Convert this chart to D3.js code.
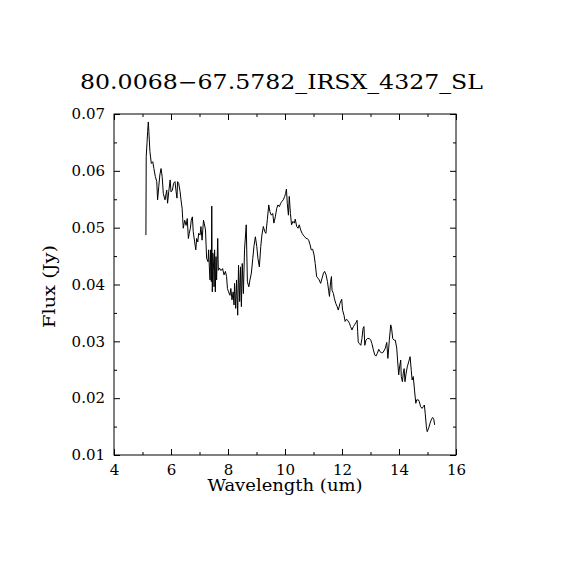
<!DOCTYPE html>
<html>
<head>
<meta charset="utf-8">
<script src="https://cdn.jsdelivr.net/npm/d3@7"></script>
<style>
  body { margin: 0; background: #fff; }
  text { font-family: "DejaVu Serif", serif; fill: #000; }
</style>
</head>
<body>
<div id="spectrum"></div>
<script>
// spectrum: [wavelength (um), flux (Jy)]
var spectrum = [
  [5.12,0.0487],[5.13,0.0625],[5.16,0.0650],[5.18,0.0669],[5.205,0.0686],[5.23,0.0663],[5.26,0.0634],
  [5.31,0.0613],[5.36,0.0616],[5.40,0.0604],[5.45,0.0590],[5.50,0.0581],[5.53,0.0549],[5.57,0.0572],
  [5.61,0.0593],[5.65,0.0604],[5.69,0.0590],[5.73,0.0560],[5.79,0.0549],[5.85,0.0566],[5.88,0.0543],
  [5.92,0.0563],[5.97,0.0584],[6.00,0.0563],[6.05,0.0566],[6.09,0.0578],[6.14,0.0581],[6.18,0.0563],
  [6.21,0.0552],[6.23,0.0581],[6.27,0.0578],[6.32,0.0563],[6.35,0.0549],[6.39,0.0534],[6.41,0.0516],
  [6.43,0.0499],[6.48,0.0513],[6.53,0.0504],[6.57,0.0516],[6.61,0.0481],[6.64,0.0490],[6.68,0.0499],
  [6.71,0.0513],[6.75,0.0519],[6.78,0.0493],[6.83,0.0475],[6.87,0.0461],[6.90,0.0481],[6.94,0.0475],
  [6.97,0.0490],[7.02,0.0487],[7.05,0.0502],[7.09,0.0478],[7.14,0.0513],[7.17,0.0507],[7.21,0.0496],
  [7.25,0.0446],[7.30,0.0440],[7.32,0.0461],[7.345,0.0431],[7.37,0.0408],[7.39,0.0461],[7.415,0.0405],
  [7.43,0.0538],[7.45,0.0387],[7.47,0.0455],[7.50,0.0425],[7.51,0.0396],[7.53,0.0461],[7.555,0.0387],
  [7.58,0.0449],[7.60,0.0408],[7.64,0.0481],[7.66,0.0425],[7.70,0.0429],[7.74,0.0425],[7.79,0.0426],
  [7.81,0.0428],[7.86,0.0417],[7.91,0.0423],[7.95,0.0414],[7.98,0.0393],[8.02,0.0387],[8.07,0.0381],
  [8.10,0.0393],[8.14,0.0373],[8.18,0.0387],[8.21,0.0364],[8.23,0.0402],[8.27,0.0358],[8.30,0.0408],
  [8.34,0.0346],[8.37,0.0434],[8.41,0.0370],[8.44,0.0431],[8.47,0.0361],[8.50,0.0437],[8.54,0.0384],
  [8.58,0.0461],[8.64,0.0505],[8.68,0.0405],[8.73,0.0396],[8.77,0.0408],[8.82,0.0420],[8.87,0.0446],
  [8.91,0.0467],[8.96,0.0484],[9.01,0.0467],[9.05,0.0446],[9.10,0.0431],[9.15,0.0467],[9.19,0.0487],
  [9.24,0.0502],[9.29,0.0493],[9.33,0.0490],[9.38,0.0514],[9.43,0.0540],[9.47,0.0528],[9.52,0.0522],
  [9.57,0.0525],[9.61,0.0508],[9.66,0.0519],[9.71,0.0534],[9.75,0.0540],[9.80,0.0537],[9.85,0.0543],
  [9.89,0.0546],[9.94,0.0549],[9.99,0.0555],[10.02,0.0560],[10.05,0.0568],[10.08,0.0543],[10.12,0.0522],
  [10.15,0.0555],[10.19,0.0525],[10.23,0.0505],[10.28,0.0511],[10.33,0.0508],[10.36,0.0515],[10.41,0.0502],
  [10.46,0.0499],[10.50,0.0505],[10.55,0.0496],[10.60,0.0490],[10.64,0.0487],[10.69,0.0484],[10.74,0.0481],
  [10.78,0.0481],[10.83,0.0478],[10.88,0.0470],[10.92,0.0461],[10.97,0.0462],[11.02,0.0452],[11.06,0.0437],
  [11.11,0.0414],[11.16,0.0411],[11.20,0.0408],[11.25,0.0402],[11.30,0.0411],[11.35,0.0420],[11.39,0.0423],
  [11.44,0.0417],[11.49,0.0405],[11.53,0.0390],[11.56,0.0379],[11.60,0.0405],[11.63,0.0414],
  [11.65,0.0390],[11.70,0.0384],[11.73,0.0376],[11.78,0.0367],[11.83,0.0361],[11.87,0.0355],[11.93,0.0367],
  [11.99,0.0374],[12.02,0.0355],[12.07,0.0346],[12.11,0.0335],[12.16,0.0339],[12.21,0.0336],[12.26,0.0332],
  [12.30,0.0326],[12.35,0.0320],[12.40,0.0326],[12.44,0.0329],[12.49,0.0333],[12.53,0.0337],[12.55,0.0317],
  [12.57,0.0299],[12.61,0.0296],[12.66,0.0293],[12.70,0.0305],[12.74,0.0323],[12.77,0.0326],[12.80,0.0293],
  [12.84,0.0302],[12.89,0.0305],[12.96,0.0305],[13.01,0.0302],[13.05,0.0296],[13.10,0.0285],[13.15,0.0276],
  [13.19,0.0274],[13.24,0.0279],[13.29,0.0286],[13.33,0.0282],[13.38,0.0280],[13.43,0.0280],[13.47,0.0283],
  [13.52,0.0288],[13.57,0.0298],[13.61,0.0270],[13.66,0.0302],[13.71,0.0329],[13.74,0.0323],[13.78,0.0305],
  [13.83,0.0302],[13.87,0.0302],[13.92,0.0288],[13.95,0.0267],[13.99,0.0241],[14.02,0.0255],[14.06,0.0267],
  [14.08,0.0238],[14.12,0.0229],[14.15,0.0244],[14.18,0.0252],[14.21,0.0229],[14.25,0.0244],[14.29,0.0255],
  [14.34,0.0264],[14.39,0.0273],[14.43,0.0249],[14.46,0.0232],[14.50,0.0238],[14.55,0.0211],[14.59,0.0191],
  [14.62,0.0197],[14.68,0.0197],[14.71,0.0194],[14.76,0.0185],[14.81,0.0182],[14.85,0.0185],[14.89,0.0188],
  [14.92,0.0173],[14.96,0.0150],[14.99,0.0141],[15.04,0.0147],[15.09,0.0156],[15.14,0.0163],[15.18,0.0166],
  [15.22,0.0163],[15.25,0.0153]
];

var xMajor = [4, 6, 8, 10, 12, 14, 16],
    xMinor = [5, 7, 9, 11, 13, 15],
    yMajor = [0.01, 0.02, 0.03, 0.04, 0.05, 0.06, 0.07],
    yMinor = [0.015, 0.025, 0.035, 0.045, 0.055, 0.065];

var titleText = "80.0068\u221267.5782_IRSX_4327_SL",
    xLabel = "Wavelength (um)",
    yLabel = "Flux (Jy)";

const margin = {top: 114, right: 114, bottom: 115, left: 114};
const width = 570, height = 570;
var innerWidth = width - margin.left - margin.right;
var innerHeight = height - margin.top - margin.bottom;

var xScale = d3.scaleLinear().domain([4, 16]).range([0, innerWidth]);
var yScale = d3.scaleLinear().domain([0.01, 0.07]).range([innerHeight, 0]);

var svg = d3.select("#spectrum").append("svg")
    .attr("width", width)
    .attr("height", height);

var g = svg.append("g")
    .attr("transform", "translate(" + margin.left + "," + margin.top + ")");

// inward ticks on all four sides, labels only bottom/left
function addAxis(axisFn, values, size, labels, transform) {
    var ax = g.append("g")
        .attr("transform", transform)
        .call(axisFn.tickValues(values).tickSize(-size).tickPadding(9)
            .tickFormat(labels ? d3.format(labels) : null));
    ax.select(".domain").remove();
    ax.selectAll("line").attr("stroke", "#000");
    if (labels) {
        ax.selectAll("text").style("font-family", "DejaVu Serif").style("font-size", "15px").attr("fill", "#000");
    } else {
        ax.selectAll("text").remove();
    }
    return ax;
}

addAxis(d3.axisBottom(xScale), xMajor, 6, "d", "translate(0," + innerHeight + ")");
addAxis(d3.axisBottom(xScale), xMinor, 3, null, "translate(0," + innerHeight + ")");
addAxis(d3.axisTop(xScale), xMajor, 6, null, "translate(0,0)");
addAxis(d3.axisTop(xScale), xMinor, 3, null, "translate(0,0)");
addAxis(d3.axisLeft(yScale), yMajor, 6, ".2f", "translate(0,0)");
addAxis(d3.axisLeft(yScale), yMinor, 3, null, "translate(0,0)");
addAxis(d3.axisRight(yScale), yMajor, 6, null, "translate(" + innerWidth + ",0)");
addAxis(d3.axisRight(yScale), yMinor, 3, null, "translate(" + innerWidth + ",0)");

g.append("rect")
    .attr("width", innerWidth)
    .attr("height", innerHeight)
    .attr("fill", "none")
    .attr("stroke", "#000")
    .attr("stroke-width", 1);

var line = d3.line()
    .x(d => xScale(d[0]))
    .y(d => yScale(d[1]));

g.append("path")
    .datum(spectrum)
    .attr("d", line)
    .attr("fill", "none")
    .attr("stroke", "#000")
    .attr("stroke-width", 1);

svg.append("text")
    .attr("x", 281.5)
    .attr("y", 89)
    .attr("text-anchor", "middle")
    .attr("textLength", 403)
    .attr("lengthAdjust", "spacingAndGlyphs")
    .style("font-size", "20px")
    .text(titleText);

svg.append("text")
    .attr("x", margin.left + innerWidth / 2)
    .attr("y", 491)
    .attr("text-anchor", "middle")
    .attr("textLength", 155)
    .attr("lengthAdjust", "spacingAndGlyphs")
    .style("font-size", "16px")
    .text(xLabel);

svg.append("text")
    .attr("transform", "translate(55," + 286.5 + ") rotate(-90)")
    .attr("text-anchor", "middle")
    .attr("textLength", 83)
    .attr("lengthAdjust", "spacingAndGlyphs")
    .style("font-size", "16px")
    .text(yLabel);
</script>
</body>
</html>
